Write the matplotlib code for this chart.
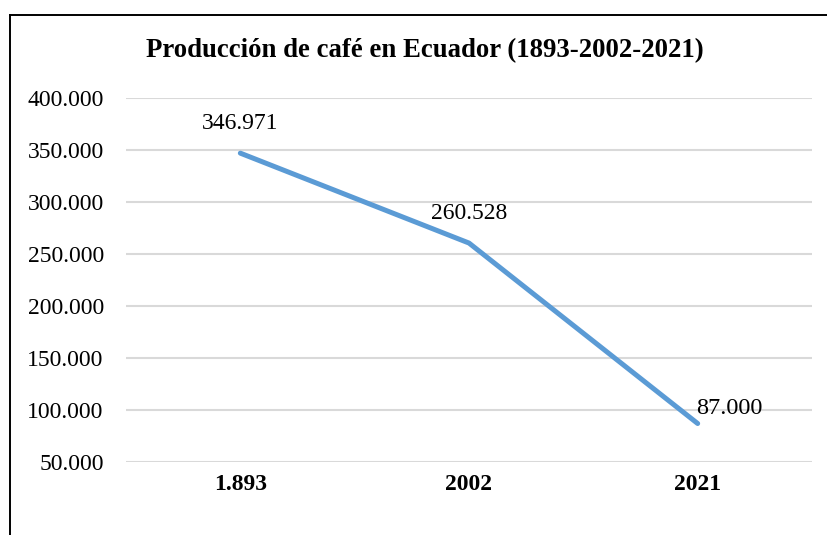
import matplotlib.pyplot as plt
from matplotlib.lines import Line2D
from matplotlib.ticker import FuncFormatter

years = ["1.893", "2002", "2021"]
produccion = [346971, 260528, 87000]
etiquetas = ["346.971", "260.528", "87.000"]
y_ticks = [50000, 100000, 150000, 200000, 250000, 300000, 350000, 400000]

plt.rcParams['font.family'] = ['Liberation Serif', 'DejaVu Serif']

W, H = 827, 535
fig = plt.figure(figsize=(W / 100, H / 100), dpi=100)
ax = fig.add_axes([126 / W, 1 - 462 / H, (812 - 126) / W, (462 - 98) / H])

x = list(range(len(years)))
ax.plot(x, produccion, color="#5b9bd5", lw=3.6, solid_capstyle="round",
        solid_joinstyle="round", zorder=3)

# etiquetas de datos
for i, (v, t) in enumerate(zip(produccion, etiquetas)):
    if i < 2:
        ax.annotate(t, (i, v), xytext=(0, 21), textcoords="offset points",
                    ha="center", va="center", fontsize=17)
    else:
        ax.annotate(t, (i, v), xytext=(-1, 11), textcoords="offset points",
                    ha="left", va="center", fontsize=17.5)

ax.set_xlim(-0.5, 2.5)
ax.set_ylim(50000, 400000)
ax.set_yticks(y_ticks)
ax.yaxis.set_major_formatter(FuncFormatter(lambda v, p: f"{int(v):,}".replace(",", ".")))
ax.set_xticks(x)
ax.set_xticklabels(years, fontweight="bold")
ax.tick_params(axis="y", length=0, pad=16, labelsize=17)
ax.tick_params(axis="x", length=0, pad=9, labelsize=17)
ax.grid(axis="y", color="#d9d9d9", lw=1.5)
ax.set_axisbelow(True)
for s in ax.spines.values():
    s.set_visible(False)

fig.text(425 / W, 1 - 51 / H, "Producción de café en Ecuador (1893-2002-2021)",
         ha="center", va="center", fontsize=19.3, fontweight="bold")

# marco del gráfico (cortado a la derecha y abajo)
fig.add_artist(Line2D([10 / W, 10 / W], [0, 1 - 15 / H], color="black", lw=1.4,
                      transform=fig.transFigure))
fig.add_artist(Line2D([10 / W, 1], [1 - 15 / H, 1 - 15 / H], color="black", lw=1.4,
                      transform=fig.transFigure))

fig.savefig("out.png", dpi=100)
